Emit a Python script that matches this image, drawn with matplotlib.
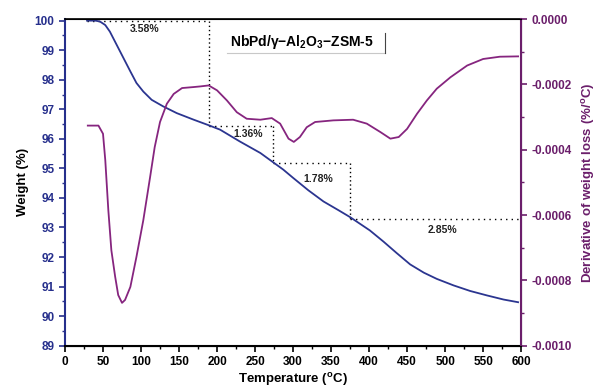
import matplotlib
matplotlib.use("Agg")
import matplotlib.pyplot as plt
from matplotlib.ticker import MultipleLocator, FormatStrFormatter

plt.rcParams['font.family'] = ['Liberation Sans', 'DejaVu Sans']
plt.rcParams['mathtext.fontset'] = 'custom'
plt.rcParams['mathtext.rm'] = 'Liberation Sans'
plt.rcParams['mathtext.bf'] = 'Liberation Sans:bold'

# Weight curve (TGA)
temp_w = [29, 40, 46, 53, 59, 68, 77, 86, 94, 103, 114, 129, 147, 169, 189, 204, 230, 257, 272, 287, 300, 320, 340, 360, 375, 401, 419, 436, 454, 472, 489, 511, 533, 555, 577, 596]
weight = [100.0, 100.0, 99.97, 99.85, 99.63, 99.18, 98.73, 98.28, 97.89, 97.6, 97.32, 97.1, 96.87, 96.65, 96.46, 96.31, 95.91, 95.52, 95.24, 94.96, 94.68, 94.26, 93.88, 93.58, 93.35, 92.9, 92.52, 92.14, 91.75, 91.47, 91.26, 91.04, 90.85, 90.7, 90.56, 90.47]

# Derivative curve (DTG)
temp_d = [30, 44, 50, 53, 57, 61, 66, 70, 75, 79, 86, 94, 103, 112, 118, 125, 134, 143, 154, 169, 178, 189, 200, 213, 226, 239, 257, 272, 283, 294, 301, 309, 318, 329, 353, 379, 397, 415, 428, 439, 450, 463, 476, 489, 507, 529, 550, 572, 596]
deriv = [-0.000326, -0.000326, -0.000351, -0.000432, -0.000585, -0.000708, -0.000789, -0.000845, -0.000869, -0.00086, -0.00082, -0.000728, -0.000616, -0.000483, -0.000392, -0.000315, -0.000259, -0.000229, -0.000211, -0.000208, -0.000206, -0.000203, -0.000218, -0.000249, -0.000285, -0.000305, -0.000308, -0.000303, -0.00032, -0.000366, -0.000376, -0.000361, -0.000331, -0.000315, -0.00031, -0.000308, -0.00032, -0.000346, -0.000366, -0.000361, -0.000336, -0.00029, -0.000249, -0.000213, -0.000178, -0.000142, -0.000122, -0.000115, -0.000114]

# Step annotations (temperature boundaries, weight levels, labels)
step_temps = [29, 190, 274, 375, 600]
step_levels = [100.0, 96.42, 95.17, 93.3, 90.46]
step_labels = ["3.58%", "1.36%", "1.78%", "2.85%"]
label_pos_t = [105, 241, 333, 497]
label_pos_w = [99.72, 96.15, 94.65, 92.9]

blue = '#2b3590'
purple = '#86257f'
left_col = '#262f8c'
right_col = '#6b1f6b'

fig = plt.figure(figsize=(5.99, 3.91), dpi=100)
ax = fig.add_axes([0.1085, 0.116, 0.7615, 0.835])
ax2 = ax.twinx()

ax.plot(temp_w, weight, color=blue, lw=1.3, zorder=3)
ax2.plot(temp_d, deriv, color=purple, lw=1.3)

# dotted step boxes
for i in range(len(step_labels)):
    t0, t1 = step_temps[i], step_temps[i + 1]
    y0, y1 = step_levels[i], step_levels[i + 1]
    ax.plot([t0, t1], [y0, y0], color='black', lw=1.0, ls=(0, (1, 3)))
    ax.plot([t1, t1], [y0, y1], color='black', lw=1.0, ls=(0, (1, 2)))
    ax.text(label_pos_t[i], label_pos_w[i], step_labels[i], fontsize=7.5,
            fontweight='bold', ha='center', va='center', color='#222222')

ax.set_xlim(0, 600)
ax.set_ylim(89, 100.05)
ax2.set_ylim(-0.0010, 0.0)

ax.xaxis.set_major_locator(MultipleLocator(50))
ax.xaxis.set_minor_locator(MultipleLocator(25))
ax.yaxis.set_major_locator(MultipleLocator(1))
ax.yaxis.set_minor_locator(MultipleLocator(0.5))
ax2.yaxis.set_major_locator(MultipleLocator(0.0002))
ax2.yaxis.set_minor_locator(MultipleLocator(0.0001))
ax2.yaxis.set_major_formatter(FormatStrFormatter('%.4f'))

ax.tick_params(axis='x', which='major', length=4, width=1.2, labelsize=8.5, colors='black')
ax.tick_params(axis='x', which='minor', length=2, width=1.0)
ax.tick_params(axis='y', which='major', length=4, width=1.2, labelsize=8.5, colors=left_col)
ax.tick_params(axis='y', which='minor', length=2, width=1.0, colors=left_col)
ax2.tick_params(axis='y', which='major', length=4, width=1.2, labelsize=8.5, colors=right_col)
ax2.tick_params(axis='y', which='minor', length=2, width=1.0, colors=right_col)
for lab in ax.get_xticklabels() + ax.get_yticklabels() + ax2.get_yticklabels():
    lab.set_fontweight('bold')

ax.spines['left'].set_color(left_col)
ax.spines['left'].set_linewidth(1.5)
ax.spines['bottom'].set_linewidth(1.5)
ax.spines['top'].set_linewidth(1.2)
ax2.spines['right'].set_color(right_col)
ax2.spines['right'].set_linewidth(1.5)
ax2.spines['left'].set_visible(False)

ax.set_xlabel('Temperature ($^{\\mathbf{o}}$C)', fontsize=9.5, fontweight='bold', labelpad=2)
ax.set_ylabel('Weight (%)', fontsize=9.5, fontweight='bold', color='black', labelpad=4)
ax2.set_ylabel('Derivative of weight loss (%/$^{\\mathbf{o}}$C)', fontsize=9.5,
               fontweight='bold', color=right_col, labelpad=6)

# sample label box
ax.text(0.362, 0.929, 'NbPd/γ−Al$_{\\mathbf{2}}$O$_{\\mathbf{3}}$−ZSM-5', transform=ax.transAxes,
        fontsize=10, fontweight='bold', ha='left', va='center', color='black')
ax.plot([0.355, 0.702], [0.896, 0.896], transform=ax.transAxes, color='#c8c8c8', lw=0.8)
ax.plot([0.702, 0.702], [0.896, 0.957], transform=ax.transAxes, color='#444444', lw=0.8)

fig.savefig('out.png', dpi=100)
